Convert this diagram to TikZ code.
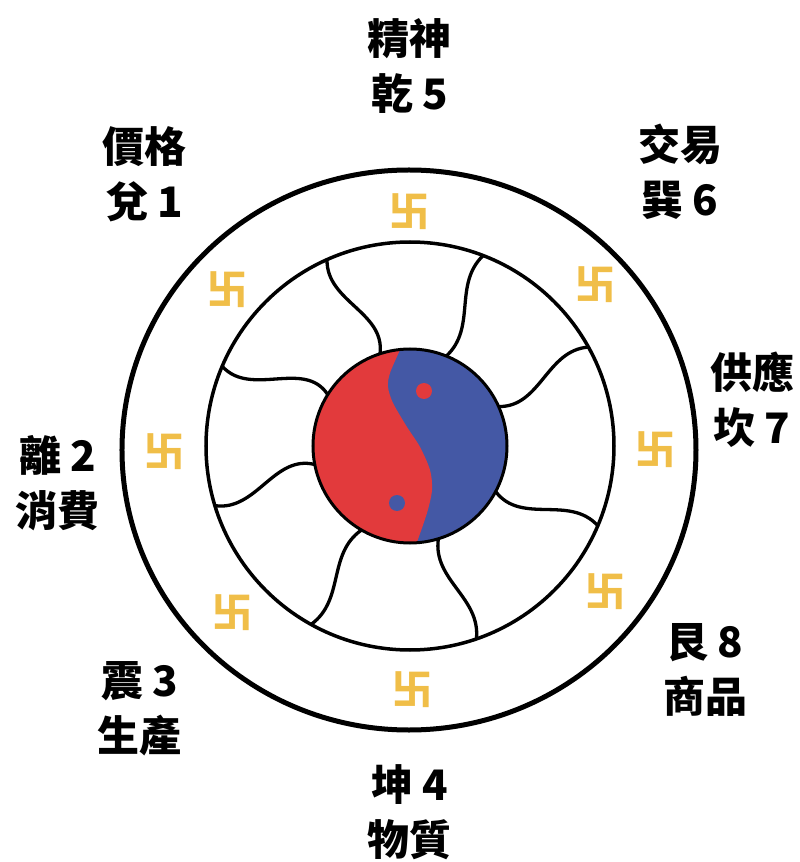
\documentclass[tikz,border=0pt]{standalone}
\usepackage{fontspec}
\newfontfamily\cjk{Noto Sans CJK TC}
\definecolor{yyred}{RGB}{226,58,60}
\definecolor{yyblue}{RGB}{68,88,165}
\definecolor{swgold}{RGB}{240,190,72}
\tikzset{
  lbl/.style={font=\cjk\bfseries\fontsize{42}{55}\selectfont, align=center, inner sep=0pt},
  swnode/.style={text=swgold, font=\cjk\bfseries\fontsize{40}{40}\selectfont, inner sep=0pt},
  wave/.style={line width=3.3pt}
}
\begin{document}
\begin{tikzpicture}[x=1pt, y=1pt]
    \useasboundingbox (-410,-416) rectangle (390,446);

    % rings
    \draw[line width=5pt] (-1,-4) ellipse [x radius=287, y radius=280];
    \draw[line width=3.5pt] (0,0) circle (204);

    % waves between the yin-yang and the inner ring
    \foreach \a/\b in {108/114, 68/69, 24/29, -28/-23, -73/-71, -120/-119, -169/-163, 148/157}
        \draw[wave] (\a:97) to[out=\a-25, in=\b+155] (\b:204);

    % yin-yang
    \fill[yyblue] (0,0) circle (97);
    \fill[yyred] (96:97) arc[start angle=96, end angle=274, radius=97]
        -- plot[smooth] coordinates {(7,-96) (17,-67) (22,-44) (20,-24) (10,-1) (-3,19) (-17,43) (-22,59) (-20,73) (-10,96)} -- cycle;
    \fill[yyred] (14,55) circle (8);
    \fill[yyblue] (-13,-57) circle (8);
    \draw[line width=3pt] (0,0) circle (97);

    % swastikas
    \foreach \x/\y [count=\i] in {0/234, 185/161, 245/-4, 195/-146, 3/-244, -177/-167, -245/-6, -182/156}
        \node[swnode] (sw\i) at (\x,\y) {卐};

    % labels
    \node[lbl] (qian) at (0,380) {精神\\乾 5};
    \node[lbl] (dui) at (-265,272) {價格\\兌 1};
    \node[lbl] (xun) at (270,274) {交易\\巽 6};
    \node[lbl] (kan) at (342,46) {供應\\坎 7};
    \node[lbl] (li) at (-352,-37) {離 2\\消費};
    \node[lbl] (zhen) at (-270,-263) {震 3\\生產};
    \node[lbl] (gen) at (295,-224) {艮 8\\商品};
    \node[lbl] (kun) at (0,-366) {坤 4\\物質};
\end{tikzpicture}
\end{document}
